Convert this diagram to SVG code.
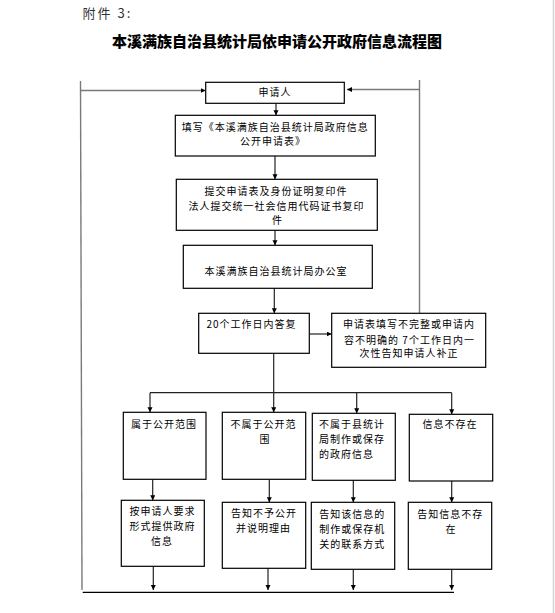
<svg xmlns="http://www.w3.org/2000/svg" width="555" height="613" viewBox="0 0 555 613">
<defs>
<marker id="ah" markerUnits="userSpaceOnUse" markerWidth="6" markerHeight="6" refX="5" refY="2.5" orient="auto">
<path d="M0,0 L5,2.5 L0,5 z" fill="#000"/>
</marker>
<style>
.box{fill:#fff;stroke:#000;stroke-width:1.2}
.t{font-family:"Noto Sans CJK SC","Liberation Sans",sans-serif;font-size:10px;letter-spacing:1px;fill:#000}
.c{text-anchor:middle}
.loop{stroke:#7a7a7a;stroke-width:1.4;fill:none}
.ln{stroke:#222;stroke-width:1.2;fill:none}
.ar{marker-end:url(#ah)}
</style>
</defs>
<rect width="555" height="613" fill="#fff"/>
<line x1="553.5" y1="0" x2="553.5" y2="613" stroke="#d4d4d4" stroke-width="1.5"/>
<text x="82.5" y="17.5" font-family="'Noto Sans CJK SC','Liberation Sans',sans-serif" font-size="13" letter-spacing="2" fill="#333">附件 3:</text>
<text x="277" y="47" text-anchor="middle" font-family="'Noto Sans CJK SC','Liberation Sans',sans-serif" font-size="15" font-weight="900" fill="#000">本溪满族自治县统计局依申请公开政府信息流程图</text>

<g id="connectors">
<line class="loop" x1="80.5" y1="81" x2="82" y2="590"/>
<line class="loop ar" x1="80.5" y1="90.5" x2="205.5" y2="90.5"/>
<line class="loop" x1="419.5" y1="80" x2="419.5" y2="313"/>
<line class="loop ar" x1="419.5" y1="89.5" x2="347" y2="89.5"/>
<line class="ln ar" x1="276" y1="103.3" x2="276" y2="115.3"/>
<line class="ln ar" x1="275" y1="156" x2="275" y2="179.3"/>
<line class="ln ar" x1="275" y1="230.3" x2="275" y2="245.3"/>
<line class="ln ar" x1="274.3" y1="288.3" x2="274.3" y2="313.3"/>
<line class="ln ar" x1="309.3" y1="334" x2="331.7" y2="334"/>
<line class="ln" x1="273.7" y1="353.3" x2="273.7" y2="392.7"/>
<line class="ln" x1="150" y1="392.7" x2="451.7" y2="392.7"/>
<line class="ln ar" x1="150" y1="392.7" x2="150" y2="412.3"/>
<line class="ln ar" x1="273.7" y1="392.7" x2="273.7" y2="412.3"/>
<line class="ln ar" x1="356.7" y1="392.7" x2="356.7" y2="413.3"/>
<line class="ln ar" x1="451.7" y1="392.7" x2="451.7" y2="414.3"/>
<line class="ln ar" x1="152.7" y1="479.3" x2="152.7" y2="500.3"/>
<line class="ln ar" x1="269.3" y1="479.3" x2="269.3" y2="502.3"/>
<line class="ln ar" x1="353.3" y1="480.3" x2="353.3" y2="502.3"/>
<line class="ln ar" x1="451.7" y1="481" x2="451.7" y2="502.3"/>
<line class="ln ar" x1="153.3" y1="566.3" x2="153.3" y2="590"/>
<line class="ln ar" x1="268" y1="568.3" x2="268" y2="590"/>
<line class="ln ar" x1="353.3" y1="569.3" x2="353.3" y2="590"/>
<line class="ln ar" x1="451.7" y1="569.3" x2="451.7" y2="590"/>
<line x1="82.7" y1="592.3" x2="454" y2="592.3" stroke="#000" stroke-width="1.3"/>
</g>

<g id="n-applicant">
<rect class="box" x="205.7" y="82.3" width="138.6" height="21"/>
<text class="t c" x="275" y="96.3">申请人</text>
</g>
<g id="n-fill">
<rect class="box" x="175.3" y="115.3" width="200" height="40.7"/>
<text class="t c" x="275.2" y="131">填写《本溪满族自治县统计局政府信息</text>
<text class="t c" x="273" y="145.3">公开申请表》</text>
</g>
<g id="n-submit">
<rect class="box" x="176.3" y="179.3" width="201" height="51"/>
<text class="t c" x="276" y="194.5">提交申请表及身份证明复印件</text>
<text class="t c" x="276.5" y="209.5">法人提交统一社会信用代码证书复印</text>
<text class="t c" x="277.5" y="224">件</text>
</g>
<g id="n-office">
<rect class="box" x="183.3" y="245.3" width="189" height="43"/>
<text class="t c" x="276" y="275">本溪满族自治县统计局办公室</text>
</g>
<g id="n-reply">
<rect class="box" x="198.7" y="313.3" width="110.6" height="40"/>
<text class="t" x="206.5" y="328">20个工作日内答复</text>
</g>
<g id="n-incomplete">
<rect class="box" x="331.7" y="313.3" width="154" height="54"/>
<text class="t c" x="409" y="328">申请表填写不完整或申请内</text>
<text class="t c" x="409.5" y="343.5">容不明确的 7个工作日内一</text>
<text class="t c" x="409" y="357">次性告知申请人补正</text>
</g>
<g id="n-public">
<rect class="box" x="123.3" y="412.3" width="82.7" height="67"/>
<text class="t c" x="164" y="428">属于公开范围</text>
</g>
<g id="n-notpublic">
<rect class="box" x="222.3" y="412.3" width="83.4" height="67"/>
<text class="t c" x="263.5" y="428">不属于公开范</text>
<text class="t c" x="265" y="443.3">围</text>
</g>
<g id="n-notcounty">
<rect class="box" x="312.3" y="413.3" width="83" height="67"/>
<text class="t" x="319" y="428">不属于县统计</text>
<text class="t" x="319" y="443">局制作或保存</text>
<text class="t" x="319" y="458">的政府信息</text>
</g>
<g id="n-notexist">
<rect class="box" x="409.3" y="414.3" width="83.4" height="66.7"/>
<text class="t c" x="450" y="428">信息不存在</text>
</g>
<g id="n-provide">
<rect class="box" x="121.3" y="500.3" width="83" height="66"/>
<text class="t c" x="162.5" y="515">按申请人要求</text>
<text class="t c" x="162.5" y="529.7">形式提供政府</text>
<text class="t c" x="162" y="544.7">信息</text>
</g>
<g id="n-refuse">
<rect class="box" x="222.3" y="502.3" width="83.4" height="66"/>
<text class="t c" x="264" y="517.3">告知不予公开</text>
<text class="t c" x="263.5" y="532.3">并说明理由</text>
</g>
<g id="n-contact">
<rect class="box" x="311.3" y="502.3" width="83.4" height="67"/>
<text class="t" x="319.3" y="518.3">告知该信息的</text>
<text class="t" x="319.3" y="533">制作或保存机</text>
<text class="t" x="319.3" y="548">关的联系方式</text>
</g>
<g id="n-inform">
<rect class="box" x="408.3" y="502.3" width="83.4" height="67"/>
<text class="t c" x="450.2" y="518.3">告知信息不存</text>
<text class="t c" x="451" y="533">在</text>
</g>
</svg>
